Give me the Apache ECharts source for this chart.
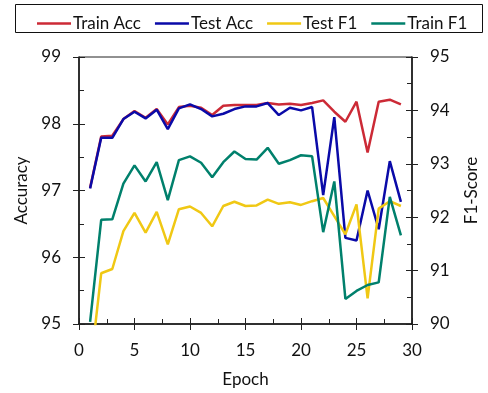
<!DOCTYPE html>
<html>
<head>
<meta charset="utf-8">
<script src="https://cdn.jsdelivr.net/npm/echarts@6/dist/echarts.min.js"></script>
<style>html,body{margin:0;padding:0;background:#fff}#c{width:488px;height:393px}</style>
</head>
<body>
<div id="c"></div>
<script>
const epochs = [1,2,3,4,5,6,7,8,9,10,11,12,13,14,15,16,17,18,19,20,21,22,23,24,25,26,27,28,29];
const trainAcc = [97.04,97.81,97.82,98.07,98.19,98.09,98.22,97.99,98.25,98.27,98.24,98.13,98.27,98.28,98.28,98.28,98.31,98.29,98.30,98.28,98.31,98.35,98.18,98.03,98.33,97.57,98.33,98.36,98.29];
const testAcc = [97.03,97.79,97.79,98.07,98.18,98.08,98.21,97.92,98.23,98.29,98.22,98.11,98.15,98.22,98.26,98.26,98.31,98.13,98.24,98.20,98.25,96.93,98.10,96.29,96.25,97.00,96.42,97.44,96.83];
const testF1 = [89.12,90.95,91.03,91.74,92.08,91.71,92.10,91.49,92.15,92.20,92.08,91.83,92.21,92.29,92.21,92.22,92.33,92.25,92.28,92.23,92.30,92.36,92.02,91.68,92.24,90.48,92.16,92.30,92.21];
const trainF1 = [90.04,91.95,91.96,92.63,92.97,92.67,93.03,92.32,93.07,93.14,93.02,92.75,93.03,93.23,93.09,93.08,93.30,93.00,93.07,93.16,93.14,91.72,92.67,90.47,90.62,90.73,90.78,92.38,91.66];
const seriesNames = ['Train Acc','Test Acc','Test F1','Train F1'];
const colors = ['#cc2a36','#0a0aa8','#f0c814','#00806c'];

const pairs = arr => epochs.map((e,i)=>[e,arr[i]]);
const FONT = 'Lato';
const txt = {fontFamily: FONT, fontSize: 17, color: '#111'};

const chart = echarts.init(document.getElementById('c'), null, {renderer:'canvas'});
const lineAxis = {show:true, lineStyle:{color:'#111', width:1.5}};
const mkX = (main) => ({
  type:'value', min:0, max:30, interval:5, position:'bottom',
  axisLine: main ? lineAxis : {show:false},
  axisTick: {show:true, inside: main, length:6, lineStyle:{color:'#222', width:1}},
  minorTick: {show: main, splitNumber:2, length:5, lineStyle:{color:'#222', width:1}},
  axisLabel: main ? Object.assign({margin:18}, txt) : {show:false},
  splitLine:{show:false}, minorSplitLine:{show:false},
  name: main ? 'Epoch' : '', nameLocation:'middle', nameGap:47, nameTextStyle: txt
});
const mkY = (main, pos, min, max, name, gap) => ({
  type:'value', min:min, max:max, interval:1, position:pos,
  axisLine: main ? lineAxis : {show:false},
  axisTick: {show:true, inside: main, length:6, lineStyle:{color:'#222', width:1}},
  minorTick: {show: main, splitNumber:2, length:5, lineStyle:{color:'#222', width:1}},
  axisLabel: main ? Object.assign({margin:18}, txt) : {show:false},
  splitLine:{show:false}, minorSplitLine:{show:false},
  name: main ? name : '', nameLocation:'middle', nameGap:gap, nameRotate:90, nameTextStyle: txt
});

const option = {
  animation:false,
  backgroundColor:'#fff',
  grid:{left:79, right:70, top:57, bottom:68, show:true, borderColor:'#222', borderWidth:1, containLabel:false},
  graphic:[{type:'rect', shape:{x:15.5, y:4.5, width:467, height:28}, style:{fill:'none', stroke:'#111', lineWidth:1}, z:100}],
  legend:{
    left:32, top:10, itemGap:14, itemWidth:34, itemHeight:2.5, icon:'rect',
    textStyle: Object.assign({}, txt, {padding:[0,0,0,-3]}),
    data: seriesNames
  },
  xAxis:[mkX(true), mkX(false)],
  yAxis:[
    mkY(true,'left',95,99,'Accuracy',43),
    mkY(false,'left',95,99,'',0),
    mkY(true,'right',90,95,'F1-Score',51),
    mkY(false,'right',90,95,'',0)
  ],
  series:[
    {name:seriesNames[0], type:'line', yAxisIndex:0, data:pairs(trainAcc)},
    {name:seriesNames[1], type:'line', yAxisIndex:0, data:pairs(testAcc)},
    {name:seriesNames[2], type:'line', yAxisIndex:2, data:pairs(testF1)},
    {name:seriesNames[3], type:'line', yAxisIndex:2, data:pairs(trainF1)}
  ].map((s,i)=>Object.assign(s,{symbol:'none', clip:true, color:colors[i], lineStyle:{width:2.5, color:colors[i]}, z:2+i}))
};
chart.setOption(option);
</script>
</body>
</html>
